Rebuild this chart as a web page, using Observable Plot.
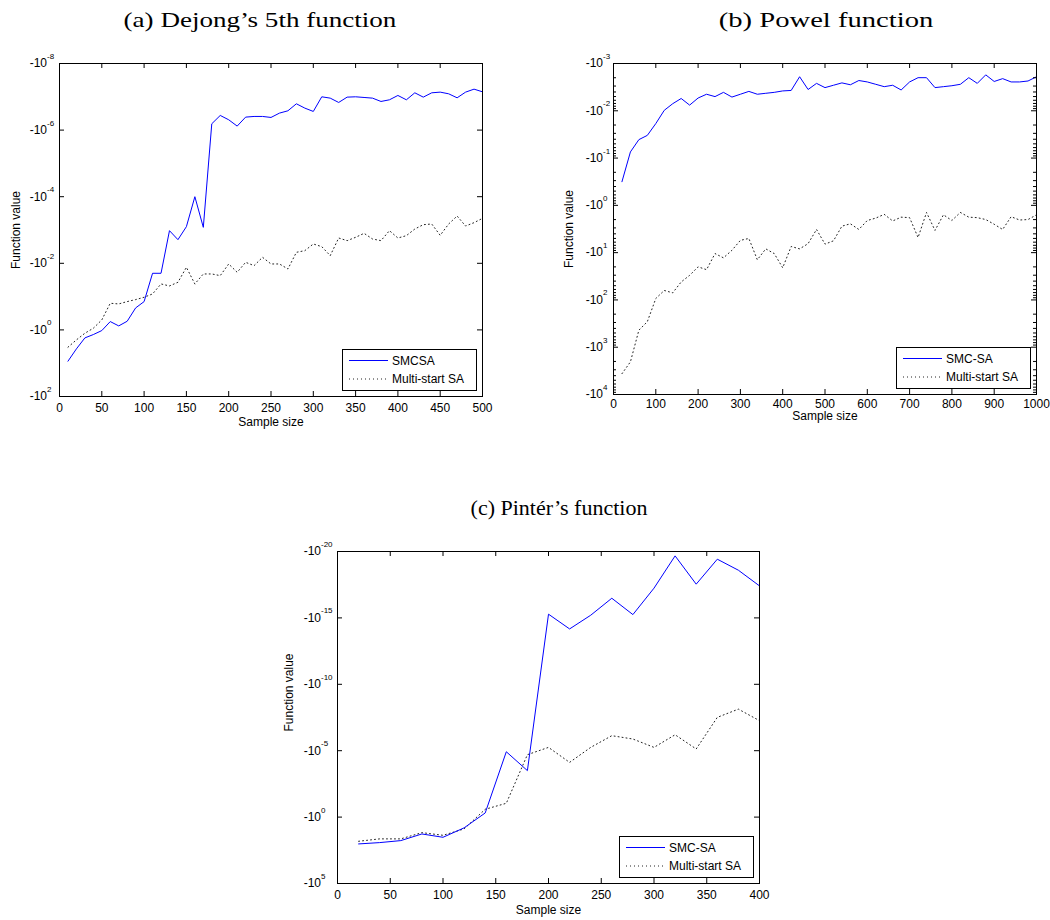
<!DOCTYPE html>
<html><head><meta charset="utf-8">
<script src="https://cdn.jsdelivr.net/npm/d3@7"></script>
<script src="https://cdn.jsdelivr.net/npm/@observablehq/plot@0.6"></script>
<style>
body{margin:0;background:#fff;}
#root{position:relative;width:1050px;height:920px;overflow:hidden;background:#fff;}
.title{position:absolute;font-family:"Liberation Serif","Times New Roman",Times,serif;font-size:22px;line-height:22px;white-space:nowrap;color:#000;}
.panel{position:absolute;}
.panel svg{overflow:visible;}
</style></head><body><div id="root"></div>
<script>
// ---------- data (values are log10 of |function value|; all function values are negative) ----------
const titles = ["(a) Dejong\u2019s 5th function", "(b) Powel function", "(c) Pint\u00e9r\u2019s function"];
const legendA = ["SMCSA", "Multi-start SA"];
const legendBC = ["SMC-SA", "Multi-start SA"];

const sampleA = [10,20,30,40,50,60,70,80,90,100,110,120,130,140,150,160,170,180,190,200,
  210,220,230,240,250,260,270,280,290,300,310,320,330,340,350,360,370,380,390,400,
  410,420,430,440,450,460,470,480,490,500];
const smcsaA = [0.94,0.57,0.24,0.14,0.02,-0.25,-0.12,-0.26,-0.66,-0.85,
  -1.7,-1.7,-2.98,-2.71,-3.1,-4.0,-3.08,-6.19,-6.44,-6.31,
  -6.12,-6.39,-6.41,-6.41,-6.38,-6.51,-6.58,-6.79,-6.66,-6.56,
  -7.0,-6.96,-6.83,-6.99,-7.0,-6.98,-6.96,-6.86,-6.91,-7.04,
  -6.91,-7.12,-6.99,-7.12,-7.14,-7.09,-6.97,-7.14,-7.23,-7.15];
const multiA = [0.52,0.3,0.1,-0.05,-0.3,-0.8,-0.78,-0.85,-0.91,-0.98,
  -1.08,-1.38,-1.32,-1.43,-1.88,-1.38,-1.68,-1.68,-1.63,-1.98,
  -1.73,-2.03,-1.93,-2.18,-1.98,-1.98,-1.83,-2.33,-2.38,-2.58,
  -2.5,-2.23,-2.76,-2.68,-2.78,-2.9,-2.73,-2.68,-2.98,-2.76,
  -2.83,-3.03,-3.16,-3.18,-2.84,-3.18,-3.42,-3.12,-3.22,-3.35];

const sampleB = [20,40,60,80,100,120,140,160,180,200,220,240,260,280,300,320,340,360,380,400,
  420,440,460,480,500,520,540,560,580,600,620,640,660,680,700,720,740,760,780,800,
  820,840,860,880,900,920,940,960,980,1000];
const smcsaB = [-0.50,-1.13,-1.39,-1.48,-1.73,-2.01,-2.15,-2.26,-2.12,-2.27,
  -2.35,-2.30,-2.39,-2.29,-2.35,-2.41,-2.35,-2.37,-2.39,-2.42,
  -2.43,-2.72,-2.45,-2.58,-2.49,-2.54,-2.59,-2.55,-2.64,-2.61,
  -2.56,-2.51,-2.54,-2.44,-2.61,-2.70,-2.70,-2.49,-2.51,-2.53,
  -2.56,-2.70,-2.58,-2.76,-2.62,-2.68,-2.61,-2.61,-2.63,-2.72];
const multiB = [3.56,3.31,2.64,2.46,1.97,1.80,1.85,1.62,1.48,1.30,
  1.36,1.02,1.11,0.95,0.74,0.70,1.15,0.92,1.02,1.32,
  0.87,0.92,0.81,0.51,0.82,0.75,0.44,0.39,0.51,0.32,
  0.27,0.19,0.33,0.25,0.26,0.68,0.15,0.53,0.20,0.32,
  0.15,0.25,0.26,0.30,0.40,0.51,0.24,0.31,0.30,0.20];

const sampleC = [20,40,60,80,100,120,140,160,180,200,220,240,260,280,300,320,340,360,380,400];
const smcsaC = [2.02,1.92,1.77,1.27,1.52,0.81,-0.31,-4.92,-3.5,-15.28,
  -14.17,-15.2,-16.48,-15.25,-17.24,-19.67,-17.54,-19.42,-18.59,-17.41];
const multiC = [1.82,1.64,1.64,1.17,1.37,0.89,-0.59,-1.04,-4.7,-5.25,
  -4.12,-5.25,-6.13,-5.88,-5.25,-6.2,-5.13,-7.51,-8.13,-7.26];

const xTicksA = [0,50,100,150,200,250,300,350,400,450,500];
const xTicksB = [0,100,200,300,400,500,600,700,800,900,1000];
const xTicksC = [0,50,100,150,200,250,300,350,400];
const yTicksA = [-8,-6,-4,-2,0,2];
const yTicksB = [-3,-2,-1,0,1,2,3,4];
const yTicksC = [-20,-15,-10,-5,0,5];
const minorK = [2,3,4,5,6,7,8,9];

// ---------- drawing ----------
const FONT = '"Liberation Sans", Arial, Helvetica, sans-serif';
const BLUE = "#0000ff";
const DOT = "1,3";
const DOTCOLOR = "#222";
const root = document.getElementById("root");

function drawPanel(c) {
  const fw = c.width - c.ml - c.mr, fh = c.height - c.mt - c.mb;
  const rows1 = c.xs.map((x, i) => ({x, v: c.s1[i]}));
  const rows2 = c.xs.map((x, i) => ({x, v: c.s2[i]}));
  const marks = [
    Plot.line(rows2, {x: "x", y: "v", stroke: DOTCOLOR, strokeWidth: 1, strokeDasharray: DOT}),
    Plot.line(rows1, {x: "x", y: "v", stroke: BLUE, strokeWidth: 1}),
    Plot.tickX(c.xTicks, {x: d => d, insetTop: fh - 5, stroke: "#000"}),
    Plot.tickX(c.xTicks, {x: d => d, insetBottom: fh - 5, stroke: "#000"}),
    Plot.tickY(c.yTicks, {y: d => d, insetRight: fw - 5, stroke: "#000"}),
    Plot.tickY(c.yTicks, {y: d => d, insetLeft: fw - 5, stroke: "#000"})
  ];
  if (c.minor) {
    const minor = [];
    c.yTicks.slice(0, -1).forEach(e => minorK.forEach(k => minor.push(e + Math.log10(k))));
    marks.push(
      Plot.tickY(minor, {y: d => d, insetRight: fw - 3, stroke: "#000"}),
      Plot.tickY(minor, {y: d => d, insetLeft: fw - 3, stroke: "#000"})
    );
  }
  marks.push(
    Plot.frame({stroke: "#000"}),
    Plot.text(c.xTicks, {x: d => d, frameAnchor: "bottom", lineAnchor: "top", textAnchor: "middle", dy: c.xPad, text: d => String(d), fontSize: 12, fill: "#000"}),
    Plot.text(c.yTicks, {y: d => d, frameAnchor: "left", textAnchor: "end", dx: -c.yPad, text: () => "-10", fontSize: 12, fill: "#000"}),
    Plot.text(c.yTicks, {y: d => d, frameAnchor: "left", textAnchor: "start", dx: -c.yPad, dy: -7, text: d => String(d), fontSize: 8, fill: "#000"}),
    Plot.text(["Sample size"], {frameAnchor: "bottom", lineAnchor: "top", textAnchor: "middle", dy: c.xTitleDy, text: d => d, fontSize: 12, fill: "#000"}),
    Plot.text(["Function value"], {frameAnchor: "left", textAnchor: "middle", rotate: -90, dx: c.yTitleDx, dy: c.yTitleDy || 0, text: d => d, fontSize: 12, fill: "#000"})
  );
  const svg = Plot.plot({
    width: c.width, height: c.height,
    marginTop: c.mt, marginRight: c.mr, marginBottom: c.mb, marginLeft: c.ml,
    x: {domain: c.xDomain, axis: null},
    y: {domain: c.yDomain, axis: null},
    style: {fontFamily: FONT, fontSize: "12px", color: "#000", background: "transparent"},
    marks
  });
  // legend box (MATLAB style, bottom-right inside the axes)
  const bw = 134, bh = 41;
  const bx = c.width - c.mr - 6 - bw, by = c.height - c.mb - 6 - bh;
  const g = d3.select(svg).append("g").attr("font-family", FONT).attr("font-size", 12).attr("text-anchor", "start");
  g.append("rect").attr("x", bx + 0.5).attr("y", by + 0.5).attr("width", bw).attr("height", bh)
    .attr("fill", "#fff").attr("stroke", "#000");
  [{name: c.names[0], stroke: BLUE, dash: null, y: by + 11.5},
   {name: c.names[1], stroke: DOTCOLOR, dash: DOT, y: by + 30}].forEach(r => {
    g.append("line").attr("x1", bx + 7).attr("x2", bx + 46).attr("y1", r.y).attr("y2", r.y)
      .attr("stroke", r.stroke).attr("stroke-width", 1).attr("stroke-dasharray", r.dash);
    g.append("text").attr("x", bx + 50).attr("y", r.y).attr("dy", "0.35em").attr("text-anchor", "start")
      .attr("fill", "#000").text(r.name);
  });
  const div = document.createElement("div");
  div.className = "panel";
  div.style.left = c.left + "px";
  div.style.top = c.top + "px";
  div.appendChild(svg);
  root.appendChild(div);
  const t = document.createElement("div");
  t.className = "title";
  t.style.left = c.titleX + "px";
  t.style.top = c.titleY + "px";
  t.style.transform = `translateX(-50%) scaleX(${c.titleScale})`;
  t.textContent = c.title;
  root.appendChild(t);
}

drawPanel({left: 0, top: 40, width: 520, height: 400, mt: 23, mr: 38, mb: 44, ml: 59,
  xDomain: [0, 500], yDomain: [2, -8], xTicks: xTicksA, yTicks: yTicksA,
  xs: sampleA, s1: smcsaA, s2: multiA, names: legendA,
  xPad: 6.5, yPad: 12.5, xTitleDy: 20.5, yTitleDx: -43,
  title: titles[0], titleX: 259.5, titleY: 8.5, titleScale: 1.23});

drawPanel({left: 560, top: 40, width: 490, height: 400, mt: 23, mr: 14, mb: 46, ml: 53,
  xDomain: [0, 1000], yDomain: [4, -3], xTicks: xTicksB, yTicks: yTicksB, minor: true,
  xs: sampleB, s1: smcsaB, s2: multiB, names: legendBC,
  xPad: 5, yPad: 10.5, xTitleDy: 17, yTitleDx: -44,
  title: titles[1], titleX: 826, titleY: 8.5, titleScale: 1.3});

drawPanel({left: 270, top: 530, width: 520, height: 390, mt: 21, mr: 31, mb: 37, ml: 67,
  xDomain: [0, 400], yDomain: [5, -20], xTicks: xTicksC, yTicks: yTicksC,
  xs: sampleC, s1: smcsaC, s2: multiC, names: legendBC,
  xPad: 6.5, yPad: 16.5, xTitleDy: 22, yTitleDx: -48.5, yTitleDy: -25,
  title: titles[2], titleX: 559, titleY: 496.5, titleScale: 1});
</script></body></html>
